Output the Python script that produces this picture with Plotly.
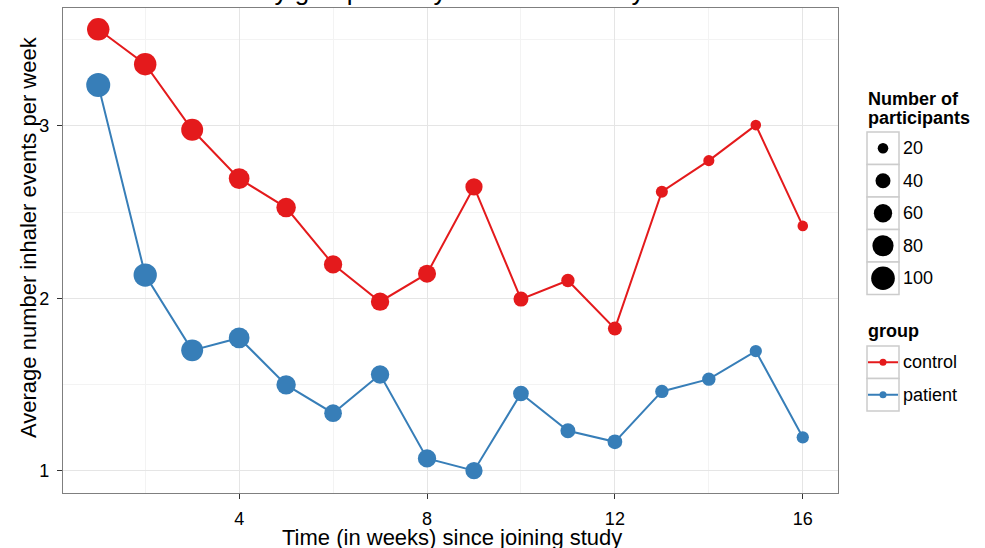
import plotly.graph_objects as go

# ---------------- data ----------------
weeks = list(range(1, 17))
control_events = [3.559, 3.357, 2.977, 2.694, 2.526, 2.197, 1.981, 2.143,
                  2.646, 1.996, 2.104, 1.825, 2.618, 2.798, 3.004, 2.420]
patient_events = [3.237, 2.135, 1.699, 1.771, 1.499, 1.335, 1.559, 1.073,
                  1.002, 1.449, 1.233, 1.169, 1.461, 1.532, 1.695, 1.195]
control_n = [90, 90, 86, 77, 68, 60, 60, 58, 53, 40, 32, 35, 26, 22, 20, 20]
patient_n = [103, 97, 86, 77, 67, 56, 60, 60, 53, 44, 40, 39, 32, 32, 27, 27]
size_breaks = [20, 40, 60, 80, 100]
groups = ["control", "patient"]
x_ticks = [4, 8, 12, 16]
y_ticks = [1, 2, 3]
x_minor = [2, 6, 10, 14]
y_minor = [1.5, 2.5, 3.5]

title_text = "by group and by duration in study"
x_title = "Time (in weeks) since joining study"
y_title = "Average number inhaler events per week"
size_title = ["Number of", "participants"]
group_title = "group"

# ---------------- style ----------------
colors = {"control": "#E41A1C", "patient": "#377EB8"}
FONT = "Liberation Sans, Arial, Helvetica, sans-serif"
SIZEREF = 2 / 5.6  # area scaling: diameter = sqrt(5.6 * n)

W, H = 985, 548
ML, MR, MT, MB = 63, 0, 8, 55
PW = W - ML - MR
PH = H - MT - MB
PANEL_RIGHT = 838

series = {"control": (control_events, control_n),
          "patient": (patient_events, patient_n)}

fig = go.Figure()
for g in groups:
    ev, n = series[g]
    fig.add_trace(go.Scatter(
        x=weeks, y=ev, mode="lines+markers", name=g,
        line=dict(color=colors[g], width=2),
        marker=dict(size=n, sizemode="area", sizeref=SIZEREF, opacity=1,
                    color=colors[g], line=dict(width=0)),
        showlegend=False, hoverinfo="skip"))

# ---------------- manual legends on a hidden pixel-space axis ----------------
LX0 = 850
key_x0, key_w, key_h = 867, 32, 32.5
size_top = 132
group_top = 346
key_cx = key_x0 + key_w / 2

shapes = []
annotations = []

size_centers = [size_top + key_h * (i + 0.5) for i in range(len(size_breaks))]
for i, b in enumerate(size_breaks):
    shapes.append(dict(type="rect", xref="x2", yref="y2",
                       x0=key_x0, x1=key_x0 + key_w,
                       y0=size_top + key_h * i, y1=size_top + key_h * (i + 1),
                       line=dict(color="#CCCCCC", width=1.5),
                       fillcolor="white", layer="below"))
    annotations.append(dict(xref="x2", yref="y2", x=key_x0 + key_w + 2,
                            y=size_centers[i], text=str(b), showarrow=False,
                            xanchor="left", yanchor="middle",
                            font=dict(size=18, color="black", family=FONT)))
fig.add_trace(go.Scatter(
    x=[key_cx] * len(size_breaks), y=size_centers, mode="markers",
    marker=dict(size=size_breaks, sizemode="area", sizeref=SIZEREF, opacity=1,
                color="black", line=dict(width=0)),
    xaxis="x2", yaxis="y2", showlegend=False, hoverinfo="skip",
    cliponaxis=False))

group_centers = [group_top + key_h * (i + 0.5) for i in range(len(groups))]
for i, g in enumerate(groups):
    shapes.append(dict(type="rect", xref="x2", yref="y2",
                       x0=key_x0, x1=key_x0 + key_w,
                       y0=group_top + key_h * i, y1=group_top + key_h * (i + 1),
                       line=dict(color="#CCCCCC", width=1.5),
                       fillcolor="white", layer="below"))
    fig.add_trace(go.Scatter(
        x=[key_x0 + 1, key_x0 + key_w - 1], y=[group_centers[i]] * 2,
        mode="lines", line=dict(color=colors[g], width=2),
        xaxis="x2", yaxis="y2", showlegend=False, hoverinfo="skip",
        cliponaxis=False))
    fig.add_trace(go.Scatter(
        x=[key_cx], y=[group_centers[i]], mode="markers",
        marker=dict(size=7, color=colors[g], line=dict(width=0), opacity=1),
        xaxis="x2", yaxis="y2", showlegend=False, hoverinfo="skip",
        cliponaxis=False))
    annotations.append(dict(xref="x2", yref="y2", x=key_x0 + key_w + 2,
                            y=group_centers[i], text=g, showarrow=False,
                            xanchor="left", yanchor="middle",
                            font=dict(size=18, color="black", family=FONT)))

annotations.append(dict(xref="x2", yref="y2", x=key_x0 - 1, y=99,
                        text="<b>%s</b>" % size_title[0], showarrow=False,
                        xanchor="left", yanchor="middle",
                        font=dict(size=18, color="black", family=FONT)))
annotations.append(dict(xref="x2", yref="y2", x=key_x0 - 1, y=118,
                        text="<b>%s</b>" % size_title[1], showarrow=False,
                        xanchor="left", yanchor="middle",
                        font=dict(size=18, color="black", family=FONT)))
annotations.append(dict(xref="x2", yref="y2", x=key_x0 - 1, y=331,
                        text="<b>%s</b>" % group_title, showarrow=False,
                        xanchor="left", yanchor="middle",
                        font=dict(size=18, color="black", family=FONT)))

# title and axis titles
annotations.append(dict(xref="paper", yref="paper", x=(452 - ML) / PW, y=1.0,
                        text=title_text, showarrow=False, xanchor="center",
                        yanchor="bottom", yshift=0,
                        font=dict(size=26, color="black", family=FONT)))
annotations.append(dict(xref="paper", yref="paper", x=(452 - ML) / PW,
                        y=(MT + PH - 537) / PH, text=x_title, showarrow=False,
                        xanchor="center", yanchor="middle",
                        font=dict(size=22, color="black", family=FONT)))
annotations.append(dict(xref="paper", yref="paper", x=(28 - ML) / PW,
                        y=(MT + PH - 237) / PH, text=y_title, showarrow=False,
                        textangle=-90, xanchor="center", yanchor="middle",
                        font=dict(size=22, color="black", family=FONT)))

axis_common = dict(
    showline=True, mirror=True, linecolor="#7F7F7F", linewidth=1.3,
    showgrid=True, gridcolor="#E5E5E5", gridwidth=1.2, zeroline=False,
    ticks="outside", ticklen=5, tickwidth=1.2, tickcolor="#333333",
    tickfont=dict(size=18, color="black", family=FONT),
    showspikes=False,
)

fig.update_layout(
    width=W, height=H,
    margin=dict(l=ML, r=MR, t=MT, b=MB, pad=0),
    paper_bgcolor="white", plot_bgcolor="white",
    hovermode=False,
    xaxis=dict(domain=[0, (PANEL_RIGHT - ML) / PW], range=[0.25, 16.75],
               tickvals=x_ticks, ticklabelstandoff=4,
               minor=dict(tickvals=x_minor, showgrid=True,
                          gridcolor="#F3F3F3", gridwidth=1, ticks=""),
               **axis_common),
    yaxis=dict(range=[0.8725, 3.6825], tickvals=y_ticks, ticklabelstandoff=4,
               minor=dict(tickvals=y_minor, showgrid=True,
                          gridcolor="#F3F3F3", gridwidth=1, ticks=""),
               **axis_common),
    xaxis2=dict(domain=[(LX0 - ML) / PW, 1], range=[LX0, W], visible=False,
                anchor="y2", fixedrange=True),
    yaxis2=dict(domain=[0, 1], range=[MT + PH, MT], visible=False,
                anchor="x2", fixedrange=True),
    shapes=shapes, annotations=annotations,
    showlegend=False,
)

fig.write_html("out.html",
               config={"displayModeBar": False},
               post_script="document.body.style.margin='0px';"
                           "document.body.style.overflow='hidden';")
